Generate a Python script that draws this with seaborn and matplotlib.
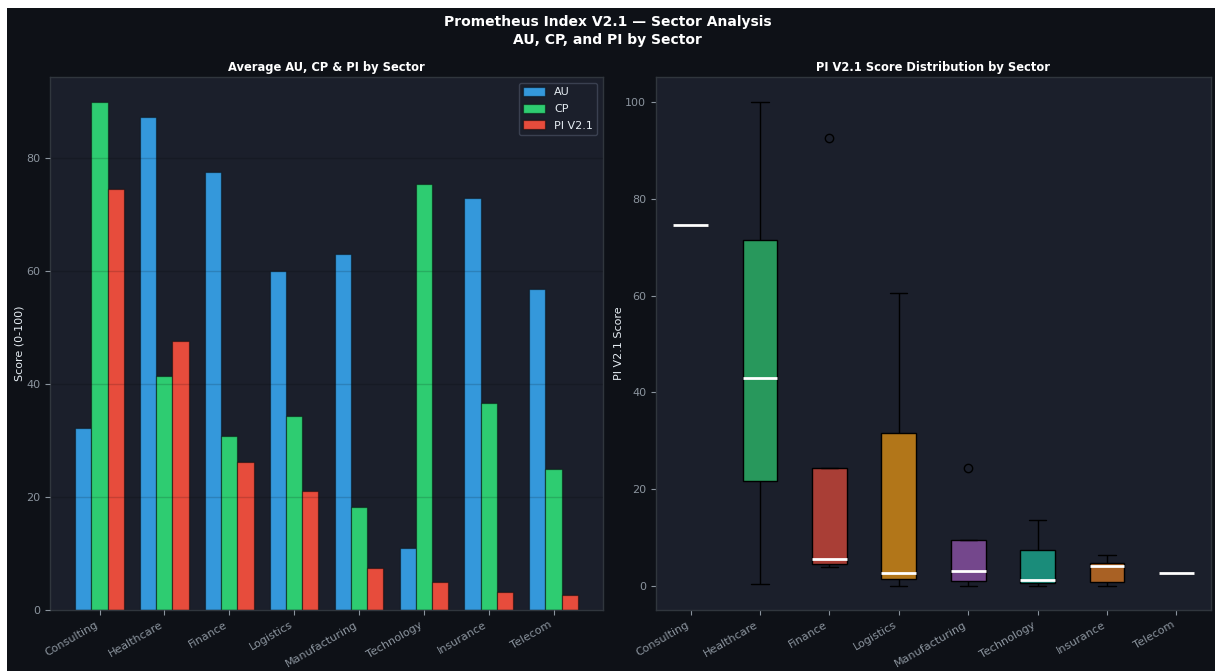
import matplotlib
matplotlib.use("Agg")
import matplotlib.pyplot as plt
from matplotlib.patches import Rectangle
import pandas as pd
import seaborn as sns

# ---- data -------------------------------------------------------------
sectors = ["Consulting", "Healthcare", "Finance", "Logistics",
           "Manufacturing", "Technology", "Insurance", "Telecom"]
metrics = ["AU", "CP", "PI V2.1"]

au_mean = [32.3, 87.4, 77.5, 60.1, 63.1, 11.0, 72.9, 56.9]
cp_mean = [89.9, 41.5, 30.9, 34.4, 18.3, 75.5, 36.7, 25.0]
pi_mean = [74.6, 47.7, 26.2, 21.1, 7.4, 5.0, 3.2, 2.7]

# PI V2.1 scores of the individual companies in each sector
pi_consulting = [74.6]
pi_healthcare = [0.4, 43.0, 100.0]
pi_finance = [3.9, 4.5, 5.5, 24.4, 92.6]
pi_logistics = [0.05, 2.75, 60.6]
pi_manufacturing = [0.0, 1.0, 3.0, 9.5, 24.4]
pi_technology = [0.0, 1.2, 13.7]
pi_insurance = [0.0, 0.9, 4.2, 4.75, 6.5]
pi_telecom = [2.7]

# ---- style ------------------------------------------------------------
FIG_BG = "#0e1117"
AX_BG = "#1b1f2b"
SPINE = "#30363d"
TICK = "#8b949e"
TEXT = "#e6edf3"

bar_colors = ["#3498db", "#2ecc71", "#e74c3c"]
box_colors = ["#3498db", "#2ecc71", "#e74c3c", "#f39c12",
              "#9b59b6", "#1abc9c", "#e67e22", "#34495e"]

sns.set_theme(style="dark")
plt.rcParams["font.family"] = ["DejaVu Sans"]

fig = plt.figure(figsize=(12.15, 6.71), dpi=100, facecolor="white")
# dark canvas, leaving a thin light strip on the top and left edges
fig.patches.append(Rectangle((7 / 1215, 0), 1 - 7 / 1215, 1 - 8 / 671,
                             transform=fig.transFigure, facecolor=FIG_BG,
                             edgecolor="none", zorder=-10))

ax1 = fig.add_axes([0.0412, 0.0909, 0.4551, 0.7943])
ax2 = fig.add_axes([0.5399, 0.0909, 0.4568, 0.7943])

for ax in (ax1, ax2):
    ax.set_facecolor(AX_BG)
    for s in ax.spines.values():
        s.set_color(SPINE)
        s.set_linewidth(1.0)
    ax.tick_params(colors=TICK, labelcolor=TICK, labelsize=8,
                   bottom=True, left=True, length=3.5, width=0.8)

# ---- left: grouped bars ----------------------------------------------
bar_df = pd.DataFrame({
    "sector": sectors * 3,
    "metric": [m for m in metrics for _ in sectors],
    "score": au_mean + cp_mean + pi_mean,
})
sns.barplot(data=bar_df, x="sector", y="score", hue="metric",
            order=sectors, hue_order=metrics, palette=bar_colors,
            width=0.75, saturation=1, errorbar=None,
            edgecolor=(0, 0, 0, 0.45), linewidth=0.9, ax=ax1)
ax1.set_xlim(-0.7625, 7.7625)
ax1.set_ylim(0, 94.4)
ax1.set_yticks([0, 20, 40, 60, 80])
ax1.grid(axis="y", color="black", alpha=0.15, linewidth=1.0)
ax1.grid(axis="x", visible=False)
ax1.set_axisbelow(False)
ax1.set_xlabel("")
ax1.set_ylabel("Score (0-100)", color=TEXT, fontsize=8)
ax1.yaxis.set_label_coords(-0.047, 0.5)
ax1.set_title("Average AU, CP & PI by Sector", color="white",
              fontsize=8.3, fontweight="bold", pad=4)
handles, labels = ax1.get_legend_handles_labels()
leg = ax1.legend(handles, labels, loc="upper right", fontsize=8,
                 facecolor=AX_BG, edgecolor="#3a4050", labelcolor=TEXT,
                 framealpha=1.0, handleheight=0.9, labelspacing=0.55)

# ---- right: PI distribution per sector --------------------------------
pi_lists = [pi_consulting, pi_healthcare, pi_finance, pi_logistics,
            pi_manufacturing, pi_technology, pi_insurance, pi_telecom]
box_df = pd.DataFrame({
    "sector": [s for s, vals in zip(sectors, pi_lists) for _ in vals],
    "pi": [v for vals in pi_lists for v in vals],
})
sns.boxplot(data=box_df, x="sector", y="pi", hue="sector",
            order=sectors, hue_order=sectors, palette=box_colors,
            saturation=1, width=0.5, whis=1.5, dodge=False, legend=False,
            linecolor="black", linewidth=1.0,
            medianprops=dict(color="white", linewidth=2),
            flierprops=dict(marker="o", markerfacecolor="none",
                            markeredgecolor="black", markersize=6),
            ax=ax2)
for p in ax2.patches:
    fc = p.get_facecolor()
    p.set_facecolor((fc[0], fc[1], fc[2], 0.7))
ax2.set_ylim(-4.96, 105.2)
ax2.set_yticks([0, 20, 40, 60, 80, 100])
ax2.grid(False)
ax2.set_xlabel("")
ax2.set_ylabel("PI V2.1 Score", color=TEXT, fontsize=8)
ax2.yaxis.set_label_coords(-0.0577, 0.5)
ax2.set_title("PI V2.1 Score Distribution by Sector", color="white",
              fontsize=8.3, fontweight="bold", pad=4)

for ax in (ax1, ax2):
    ax.set_xticks(range(len(sectors)))
    ax.set_xticklabels(sectors, rotation=30, ha="right", color=TICK,
                       fontsize=8)

fig.suptitle("Prometheus Index V2.1 \u2014 Sector Analysis\nAU, CP, and PI by Sector",
             color="white", fontsize=10, fontweight="bold", y=0.978,
             va="top", linespacing=1.35)

fig.savefig("out.png", dpi=100, facecolor="white")
